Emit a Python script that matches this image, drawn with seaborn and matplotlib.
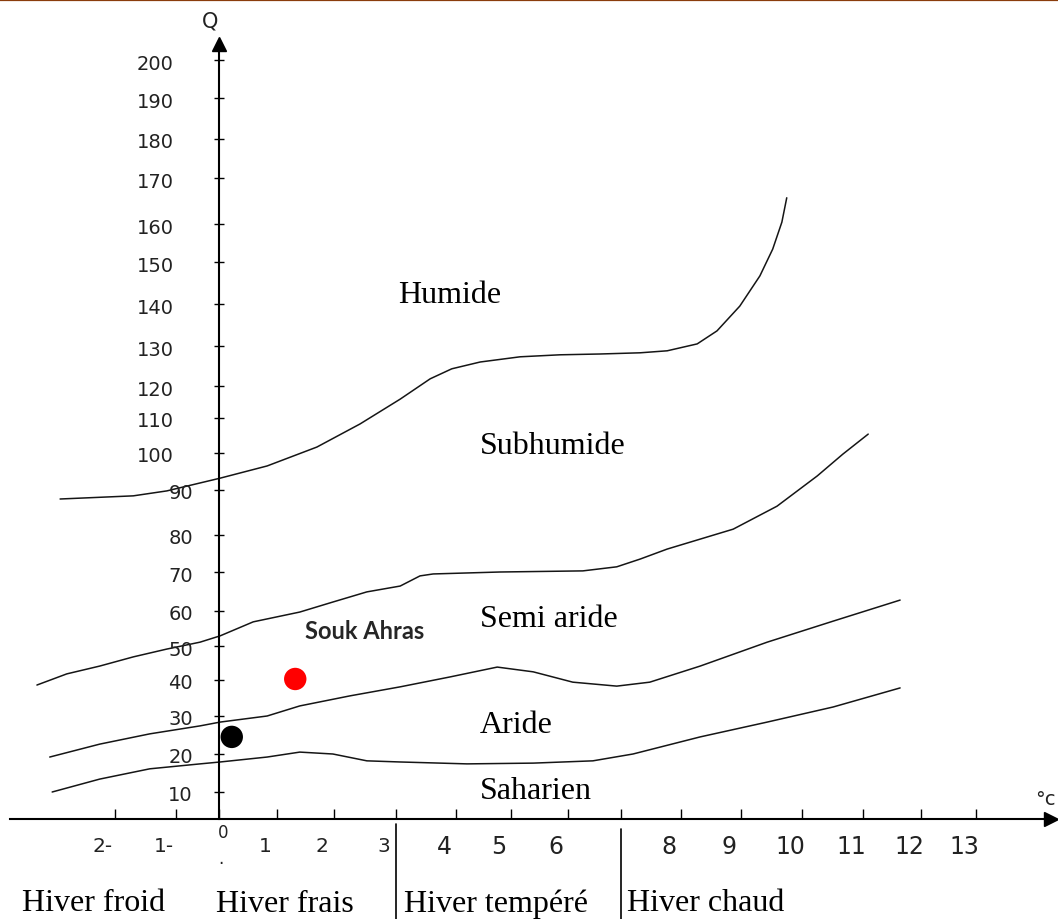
import numpy as np
import pandas as pd
import matplotlib
matplotlib.use("Agg")
import matplotlib.pyplot as plt
import seaborn as sns
from matplotlib.lines import Line2D

# ---------------- data (m en degres C, Q2 d'Emberger) ----------------
# limite humide / subhumide
humide_T = [-2.90, -1.70, -1.15, 0.02, 0.83, 1.70, 2.42, 3.07, 3.57, 3.93, 4.44, 5.16,
            5.86, 6.60, 7.32, 7.77, 8.27, 8.60, 8.98, 9.31, 9.52, 9.67, 9.75]
humide_Q = [88.0, 88.7, 89.8, 93.2, 96.5, 101.7, 108.3, 115.9, 121.8, 124.3, 126.0, 127.3,
            127.8, 128.0, 128.3, 128.8, 130.5, 133.6, 139.5, 146.7, 153.4, 160.4, 165.7]
# limite subhumide / semi aride
subhumide_T = [-3.28, -2.79, -2.25, -1.70, -1.15, -0.44, 0.02, 0.59, 1.40, 1.98, 2.53, 3.07,
               3.40, 3.62, 4.80, 6.28, 6.92, 7.32, 7.77, 8.87, 9.59, 10.25, 10.67, 11.09]
subhumide_Q = [38.6, 41.8, 44.1, 46.8, 49.1, 51.1, 52.9, 56.9, 59.7, 62.3, 64.9, 66.4,
               69.0, 69.5, 70.0, 70.3, 71.4, 73.5, 76.2, 81.3, 86.4, 93.8, 99.7, 105.4]
# limite semi aride / aride
semiaride_T = [-3.07, -2.25, -1.43, -0.44, 0.02, 0.83, 1.40, 2.26, 3.07, 3.90, 4.75, 5.39,
               6.09, 6.92, 7.48, 8.32, 9.43, 10.51, 11.64]
semiaride_Q = [19.2, 22.6, 25.3, 27.4, 28.4, 30.0, 32.8, 35.6, 38.1, 40.9, 43.8, 42.4,
               39.4, 38.3, 39.4, 44.1, 51.1, 57.1, 62.8]
# limite aride / saharien
aride_T = [-3.03, -2.25, -1.43, -0.44, 0.02, 0.83, 1.40, 1.98, 2.53, 3.07, 4.20, 5.39,
           6.47, 7.20, 8.32, 9.43, 10.51, 11.64]
aride_Q = [10.0, 13.4, 16.1, 17.4, 17.9, 19.2, 20.5, 20.0, 18.2, 17.9, 17.4, 17.6,
           18.2, 20.0, 24.5, 28.4, 32.5, 37.8]

# stations
station_T = [1.32, 0.22]
station_Q = [40.3, 24.5]
station_col = ["#ff0000", "#000000"]

x_ticks = list(range(-2, 14))
x_tick_labels = ["2-", "1-", "0", "1", "2", "3", "4", "5", "6", "", "8", "9", "10", "11", "12", "13"]
y_ticks = list(range(0, 210, 10))
y_tick_labels = [str(v) for v in y_ticks]

zones = ["Humide", "Subhumide", "Semi aride", "Aride", "Saharien"]
hivers = ["Hiver froid", "Hiver frais", "Hiver tempéré", "Hiver chaud"]

# ---------------- hand drawn axis graduation (pixel position of each tick) ----------------
W, H = 1058, 920
x_anchor = np.array([-6] + x_ticks + [20], dtype=float)
x_px = np.array([-129, 115, 176, 219, 277, 334, 396, 456, 511, 568, 621, 681, 741,
                 802, 863, 921, 976, 1361], dtype=float)
y_anchor = np.array([-100] + y_ticks + [300], dtype=float)
y_px = np.array([1090, 820, 793, 755, 717, 681, 647, 612, 573, 536, 491, 454, 419, 387,
                 347, 305, 263, 225, 179, 140, 99, 61, -319], dtype=float)


def fx(t):
    return np.interp(t, x_anchor, x_px)


def fx_inv(p):
    return np.interp(p, x_px, x_anchor)


def fy(q):
    return H - np.interp(q, y_anchor, y_px)


def fy_inv(v):
    return np.interp(H - np.asarray(v), y_px[::-1], y_anchor[::-1])


sns.set_theme(style="white")
plt.rcParams["font.family"] = ["DejaVu Sans"]
serif = "Liberation Serif"

fig = plt.figure(figsize=(W / 100, H / 100), dpi=100)
ax = fig.add_axes([0, 0, 1, 1])
ax.set_xscale("function", functions=(fx, fx_inv))
ax.set_yscale("function", functions=(fy, fy_inv))

# limits
frames = []
for name, tt, qq in [("humide", humide_T, humide_Q), ("subhumide", subhumide_T, subhumide_Q),
                     ("semiaride", semiaride_T, semiaride_Q), ("aride", aride_T, aride_Q)]:
    frames.append(pd.DataFrame({"T": tt, "Q": qq, "limite": name}))
df = pd.concat(frames, ignore_index=True)
sns.lineplot(data=df, x="T", y="Q", units="limite", estimator=None, sort=False,
             color="#151515", lw=1.1, ax=ax, legend=False,
             solid_joinstyle="round", solid_capstyle="round")

sns.scatterplot(x=station_T, y=station_Q, hue=station_col, palette={c: c for c in station_col},
                s=260, edgecolor="none", ax=ax, legend=False, zorder=5)

ax.set_xlim(fx_inv(0), fx_inv(W))
ax.set_ylim(fy_inv(0), fy_inv(H))
ax.set_xlabel("")
ax.set_ylabel("")
ax.patch.set_alpha(0)

# axes drawn like the hand made sketch
for s in ["top", "right"]:
    ax.spines[s].set_visible(False)
ax.spines["left"].set_position(("data", 0))
ax.spines["bottom"].set_position(("data", 0))
ax.spines["left"].set_bounds(0, 204)
ax.spines["bottom"].set_bounds(-3.72, 14.25)
for s in ["left", "bottom"]:
    ax.spines[s].set_color("black")
    ax.spines[s].set_linewidth(1.5)
ax.plot([14.36], [0], marker=">", ms=10, color="black", clip_on=False)
ax.plot([0], [204.1], marker="^", ms=10, color="black", clip_on=False)

ax.set_xticks(x_ticks)
ax.set_yticks(y_ticks[1:])
ax.tick_params(axis="x", bottom=True, direction="in", length=7, width=1, color="black",
               labelbottom=False)
ax.tick_params(axis="y", left=True, direction="inout", length=7, width=1, color="black",
               labelleft=False)

for t, lab in zip(x_ticks, x_tick_labels):
    if lab == "0":
        ax.annotate(lab, xy=(t, 0), xytext=(4, -13), textcoords="offset pixels",
                    ha="center", va="center", fontsize=12, color="#222222")
        ax.annotate(".", xy=(t, 0), xytext=(2, -44), textcoords="offset pixels",
                    ha="center", va="baseline", fontsize=12, color="#222222")
        continue
    fs = 14.5 if t <= 3 else 17
    ax.annotate(lab, xy=(t, 0), xytext=(-12, -27), textcoords="offset pixels",
                ha="center", va="center", fontsize=fs, color="#222222")

for q, lab in zip(y_ticks[1:], y_tick_labels[1:]):
    dx = -45 if len(lab) == 3 else -26
    ax.annotate(lab, xy=(0, q), xytext=(dx, -3), textcoords="offset pixels",
                ha="right", va="center", fontsize=14, color="#222222")

fig.text(210 / W, 1 - 22 / H, "Q", ha="center", va="center", fontsize=15, color="#222222")
fig.text(1045 / W, 1 - 800 / H, "°c", ha="center", va="center", fontsize=14, color="#222222")

# zone names (left edge, baseline)
zone_pos = [(3.03, 140.5), (4.44, 100.0), (4.44, 55.7), (4.44, 25.8), (4.44, 7.8)]
for lab, (t, q) in zip(zones, zone_pos):
    ax.text(t, q, lab, ha="left", va="baseline", family=serif, fontsize=23, color="black")
ax.text(1.49, 52.3, "Souk Ahras", ha="left", va="baseline", family="Lato",
        fontweight="bold", fontsize=17, color="#262626")

# winter types under the axis
ax.axvline(3, ymin=0, ymax=(H - 825) / H, color="black", lw=1.2)
ax.axvline(7, ymin=0, ymax=(H - 830) / H, color="black", lw=1.2)
hiver_pos = [(22, 911), (216, 912), (404, 912), (627, 911)]
for lab, (px, py) in zip(hivers, hiver_pos):
    fig.text(px / W, 1 - py / H, lab, ha="left", va="baseline", family=serif,
             fontsize=23, color="black")

fig.add_artist(Line2D([0, 1], [1 - 1 / H, 1 - 1 / H], transform=fig.transFigure,
                      color="#8a3c0c", lw=1.6))

fig.savefig("out.png", dpi=100)
